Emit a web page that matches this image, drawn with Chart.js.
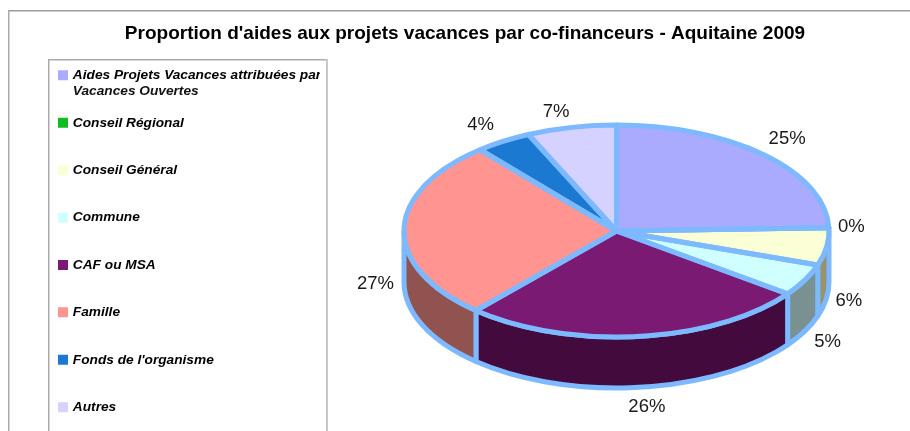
<!DOCTYPE html>
<html>
<head>
<meta charset="utf-8">
<style>
html,body{margin:0;padding:0;background:#fff;overflow:hidden}
#wrap{position:absolute;left:0;top:0;width:910px;height:431px}
</style>
<script src="https://cdn.jsdelivr.net/npm/chart.js@4/dist/chart.umd.js"></script>
</head>
<body>
<div id="wrap"><canvas id="c" width="910" height="431"></canvas></div>
<script>
const categories = [
  ["Aides Projets Vacances attribuées par", "Vacances Ouvertes"],
  "Conseil Régional", "Conseil Général", "Commune", "CAF ou MSA",
  "Famille", "Fonds de l'organisme", "Autres"
];
const shares = [24.5, 0, 5.7, 4.9, 26.4, 27.4, 4.3, 6.8];
const faceColours = ["#AAAAFF", "#11BB22", "#FAFFD5", "#CFFFFF", "#7B1A72", "#FF9490", "#1C79D1", "#D6D2FF"];
const wallColours = ["#616191", "#0A6A13", "#96936E", "#7A9091", "#430A3E", "#915350", "#104577", "#7A7891"];
const edgeColour = "#7DB9FF";
const titleText = "Proportion d'aides aux projets vacances par co-financeurs - Aquitaine 2009";

const FACE = { cx: 616.5, cy: 231, rx: 212.5, ry: 106, depth: 51 };
const LABEL = { rx: 238, ry: 129 };
const labelNudge = [[5,1],[-3,0],[-3,0],[0,0],[5,-3],[-3,4],[-9,3],[-10,7]];
const EDGE_W = 5;
const LEGEND = { x: 60, y: 68.5, rowGap: 33.7, fontSize: 13.7, swatch: 6, swatchStroke: 4 };
const legendFont = "italic bold 13.7px 'Liberation Sans', Arial, sans-serif";

function wallPath(ctx, a0, a1) {
  ctx.beginPath();
  ctx.ellipse(FACE.cx, FACE.cy, FACE.rx, FACE.ry, 0, a0, a1);
  ctx.ellipse(FACE.cx, FACE.cy + FACE.depth, FACE.rx, FACE.ry, 0, a1, a0, true);
  ctx.closePath();
}
function line(ctx, x0, y0, x1, y1, colour, w) {
  ctx.beginPath();
  ctx.moveTo(x0, y0);
  ctx.lineTo(x1, y1);
  ctx.strokeStyle = colour;
  ctx.lineWidth = w;
  ctx.stroke();
}

const framePlugin = {
  id: "frames",
  afterLayout(chart) {
    const lg = chart.legend;
    lg.left = LEGEND.x - lg.options.labels.padding;
    lg.top = LEGEND.y - lg.options.labels.padding;
    lg.bottom = lg.top + lg.height + 100;
  },
  beforeDraw(chart) {
    const ctx = chart.ctx;
    ctx.save();
    ctx.fillStyle = "#fff";
    ctx.fillRect(0, 0, chart.width, chart.height);
    line(ctx, 8, 10.75, 910, 10.75, "#9C9C9C", 1.5);
    line(ctx, 8.75, 10, 8.75, 431, "#ABABAB", 1.5);
    line(ctx, 48, 59.75, 328, 59.75, "#ABABAB", 1.5);
    line(ctx, 48.75, 59, 48.75, 431, "#ABABAB", 1.5);
    line(ctx, 327, 59, 327, 431, "#C8C8C8", 2);
    ctx.restore();
  },
  afterDraw(chart) {
    // continuation line of the first, two-line legend entry
    const ctx = chart.ctx;
    const lines = categories[0];
    ctx.save();
    ctx.font = legendFont;
    ctx.fillStyle = "#111";
    ctx.textAlign = "left";
    ctx.textBaseline = "middle";
    ctx.fillText(lines[1], LEGEND.x + LEGEND.swatch + LEGEND.fontSize / 2, LEGEND.y + LEGEND.fontSize / 2 + 15.6);
    ctx.restore();
  }
};

const pie3d = {
  id: "pie3d",
  beforeDatasetDraw(chart, args) {
    const ctx = chart.ctx;
    const arcs = chart.getDatasetMeta(args.index).data;
    ctx.save();
    ctx.lineJoin = "round";
    // side wall: only the part of each slice that faces the viewer
    arcs.forEach((arc, i) => {
      const a0 = Math.max(arc.startAngle, 0), a1 = Math.min(arc.endAngle, Math.PI);
      if (a1 <= a0) return;
      wallPath(ctx, a0, a1);
      ctx.fillStyle = wallColours[i];
      ctx.fill();
      ctx.strokeStyle = edgeColour;
      ctx.lineWidth = EDGE_W;
      ctx.stroke();
    });
    // top face, through the library's own arc element under an elliptical transform
    arcs.forEach(arc => {
      ctx.save();
      ctx.translate(FACE.cx, FACE.cy);
      ctx.scale(FACE.rx / arc.outerRadius, FACE.ry / arc.outerRadius);
      ctx.translate(-arc.x, -arc.y);
      arc.draw(ctx);
      ctx.restore();
    });
    // outlines at a constant width
    arcs.forEach(arc => {
      ctx.beginPath();
      ctx.moveTo(FACE.cx, FACE.cy);
      ctx.ellipse(FACE.cx, FACE.cy, FACE.rx, FACE.ry, 0, arc.startAngle, arc.endAngle);
      ctx.closePath();
      ctx.strokeStyle = edgeColour;
      ctx.lineWidth = EDGE_W;
      ctx.stroke();
    });
    // percentage labels
    ctx.fillStyle = "#1a1a1a";
    ctx.font = "18.5px 'Liberation Sans', Arial, sans-serif";
    ctx.textAlign = "center";
    ctx.textBaseline = "middle";
    arcs.forEach((arc, i) => {
      const mid = (arc.startAngle + arc.endAngle) / 2;
      const x = FACE.cx + LABEL.rx * Math.cos(mid);
      let y = FACE.cy + LABEL.ry * Math.sin(mid);
      if (Math.sin(mid) > -0.02) y += FACE.depth;
      ctx.fillText(Math.round(shares[i]) + "%", x + labelNudge[i][0], y + labelNudge[i][1]);
    });
    ctx.restore();
    return false;
  }
};

new Chart(document.getElementById("c"), {
  type: "pie",
  data: {
    labels: categories,
    datasets: [{ data: shares, backgroundColor: faceColours, borderWidth: 0 }]
  },
  plugins: [framePlugin, pie3d],
  options: {
    responsive: false,
    animation: false,
    layout: { padding: { left: 20, top: 0 } },
    plugins: {
      tooltip: { enabled: false },
      title: {
        display: true,
        text: titleText,
        color: "#000",
        font: { family: "'Liberation Sans', Arial, sans-serif", size: 19, weight: "bold" },
        padding: { top: 22.5, bottom: -29 }
      },
      legend: {
        position: "left",
        align: "start",
        maxWidth: 300,
        labels: {
          color: "#111",
          boxWidth: LEGEND.swatch,
          boxHeight: LEGEND.swatch,
          padding: LEGEND.rowGap,
          font: { family: "'Liberation Sans', Arial, sans-serif", size: LEGEND.fontSize, weight: "bold", style: "italic", lineHeight: 1.2 },
          generateLabels(chart) {
            return chart.data.labels.map((text, i) => ({
              text: Array.isArray(text) ? text[0] : text,
              fillStyle: faceColours[i], strokeStyle: faceColours[i], lineWidth: LEGEND.swatchStroke, index: i, hidden: false
            }));
          }
        }
      }
    }
  }
});
</script>
</body>
</html>
